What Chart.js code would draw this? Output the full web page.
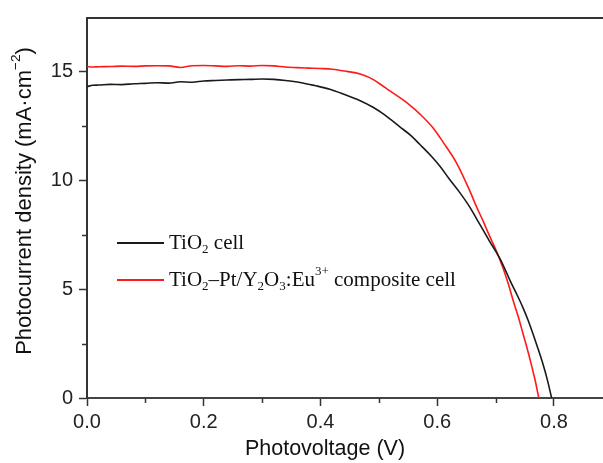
<!DOCTYPE html>
<html>
<head>
<meta charset="utf-8">
<script src="https://cdn.jsdelivr.net/npm/chart.js@4.4.0/dist/chart.umd.min.js"></script>
<style>
  html, body { margin: 0; padding: 0; background: #fff; overflow: hidden; }
</style>
</head>
<body>
<canvas id="myChart" width="603" height="463"></canvas>
<script>
// values
var voltTiO2 = [0, 0.01, 0.02, 0.04, 0.06, 0.08, 0.10, 0.12, 0.14, 0.16, 0.18, 0.20, 0.22, 0.24, 0.26, 0.28, 0.30, 0.32, 0.34, 0.365, 0.39, 0.416, 0.44, 0.468, 0.49, 0.51, 0.536, 0.555, 0.57, 0.59, 0.605, 0.62, 0.639, 0.655, 0.667, 0.68, 0.69, 0.70, 0.707, 0.716, 0.725, 0.736, 0.747, 0.756, 0.764, 0.772, 0.781, 0.789, 0.796];
var currTiO2 = [14.30, 14.36, 14.37, 14.40, 14.39, 14.43, 14.45, 14.48, 14.46, 14.52, 14.50, 14.56, 14.58, 14.60, 14.62, 14.63, 14.65, 14.63, 14.58, 14.49, 14.35, 14.18, 13.95, 13.65, 13.35, 13.00, 12.45, 12.05, 11.65, 11.10, 10.63, 10.08, 9.42, 8.80, 8.25, 7.65, 7.18, 6.75, 6.42, 5.92, 5.38, 4.78, 4.14, 3.55, 2.95, 2.32, 1.57, 0.80, 0];
var voltComposite = [0, 0.01, 0.02, 0.04, 0.06, 0.08, 0.10, 0.12, 0.14, 0.16, 0.18, 0.20, 0.22, 0.24, 0.26, 0.28, 0.30, 0.32, 0.34, 0.36, 0.38, 0.40, 0.42, 0.445, 0.468, 0.485, 0.502, 0.519, 0.541, 0.553, 0.57, 0.593, 0.61, 0.633, 0.656, 0.667, 0.679, 0.69, 0.702, 0.713, 0.722, 0.73, 0.739, 0.747, 0.755, 0.762, 0.768, 0.774];
var currComposite = [15.22, 15.20, 15.21, 15.22, 15.24, 15.23, 15.25, 15.26, 15.25, 15.18, 15.26, 15.27, 15.25, 15.23, 15.26, 15.24, 15.27, 15.25, 15.20, 15.17, 15.15, 15.13, 15.10, 15.00, 14.88, 14.70, 14.42, 14.10, 13.70, 13.45, 13.05, 12.40, 11.75, 10.80, 9.50, 8.80, 8.10, 7.42, 6.71, 5.95, 5.22, 4.48, 3.72, 2.95, 2.18, 1.45, 0.78, 0];
var xTicks = [0, 0.2, 0.4, 0.6, 0.8];
var xMinorTicks = [0.1, 0.3, 0.5, 0.7];
var yTicks = [0, 5, 10, 15];
var yMinorTicks = [2.5, 7.5, 12.5];
// text pieces: [text, 'sub' | 'sup' | '']
var nameTiO2 = [['TiO', ''], ['2', 'sub'], [' cell', '']];
var nameComposite = [['TiO', ''], ['2', 'sub'], ['\u2013Pt/Y', ''], ['2', 'sub'], ['O', ''], ['3', 'sub'], [':Eu', ''], ['3+', 'sup'], [' composite cell', '']];
var xTitle = [['Photovoltage (V)', '']];
var yTitle = [['Photocurrent density (mA\u00b7cm', ''], ['\u22122', 'sup'], [')', '']];

var sans = '"Liberation Sans", Arial, sans-serif';
var serif = '"Liberation Serif", "Times New Roman", serif';

function drawPieces(c, pieces, x, y, size, family) {
  for (var i = 0; i < pieces.length; i++) {
    var p = pieces[i];
    var s = p[1] ? size * 0.62 : size;
    var dy = p[1] == 'sub' ? size * 0.3 : (p[1] == 'sup' ? -size * 0.42 : 0);
    c.font = s + 'px ' + family;
    c.fillText(p[0], x, y + dy);
    x += c.measureText(p[0]).width;
  }
  return x;
}
function piecesWidth(c, pieces, size, family) {
  var w = 0;
  for (var i = 0; i < pieces.length; i++) {
    c.font = (pieces[i][1] ? size * 0.62 : size) + 'px ' + family;
    w += c.measureText(pieces[i][0]).width;
  }
  return w;
}

var extras = {
  id: 'extras',
  afterDraw: function (chart) {
    var c = chart.ctx;
    var a = chart.chartArea;
    var sx = chart.scales.x, sy = chart.scales.y;
    c.save();
    // top frame line
    c.strokeStyle = '#333';
    c.lineWidth = 2;
    c.beginPath();
    c.moveTo(a.left, a.top);
    c.lineTo(a.right, a.top);
    c.stroke();
    // minor ticks
    c.lineWidth = 1.5;
    xMinorTicks.forEach(function (v) {
      var px = Math.round(sx.getPixelForValue(v)) + 0.5;
      c.beginPath();
      c.moveTo(px, a.bottom);
      c.lineTo(px, a.bottom + 5);
      c.stroke();
    });
    yMinorTicks.forEach(function (v) {
      var py = Math.round(sy.getPixelForValue(v)) + 0.5;
      c.beginPath();
      c.moveTo(a.left, py);
      c.lineTo(a.left - 5, py);
      c.stroke();
    });
    // legend
    c.fillStyle = '#111';
    c.textBaseline = 'middle';
    c.textAlign = 'left';
    var rows = [[nameTiO2, '#1a1a1a', 243], [nameComposite, '#ff1a1a', 280]];
    rows.forEach(function (r) {
      c.strokeStyle = r[1];
      c.lineWidth = 2;
      c.beginPath();
      c.moveTo(117, r[2]);
      c.lineTo(164, r[2]);
      c.stroke();
      drawPieces(c, r[0], 169, r[2], 21, serif);
    });
    // axis titles
    c.fillStyle = '#111';
    var w = piecesWidth(c, xTitle, 21.5, sans);
    drawPieces(c, xTitle, 325 - w / 2, 449, 21.5, sans);
    c.translate(25, 201);
    c.rotate(-Math.PI / 2);
    w = piecesWidth(c, yTitle, 22, sans);
    drawPieces(c, yTitle, -w / 2, 0, 22, sans);
    c.restore();
  }
};

var ctx1 = document.getElementById('myChart').getContext('2d');
var graph = new Chart(ctx1, {
  type: 'line',
  data: {
    datasets: [{
      label: 'TiO2 cell',
      data: voltTiO2.map(function (v, i) { return { x: v, y: currTiO2[i] }; }),
      borderColor: '#1a1a1a',
      borderWidth: 1.6,
      pointRadius: 0,
      cubicInterpolationMode: 'monotone'
    }, {
      label: 'TiO2-Pt/Y2O3:Eu3+ composite cell',
      data: voltComposite.map(function (v, i) { return { x: v, y: currComposite[i] }; }),
      borderColor: '#ff1a1a',
      borderWidth: 1.6,
      pointRadius: 0,
      cubicInterpolationMode: 'monotone'
    }]
  },
  options: {
    responsive: false,
    animation: false,
    layout: { padding: { top: 13, right: 0, left: 0, bottom: 0 } },
    plugins: { legend: { display: false }, tooltip: { enabled: false } },
    scales: {
      x: {
        type: 'linear',
        min: 0,
        max: 0.884,
        afterFit: function (s) { s.height = 65; },
        afterBuildTicks: function (s) { s.ticks = xTicks.map(function (v) { return { value: v }; }); },
        border: { display: true, color: '#444', width: 2 },
        grid: { drawOnChartArea: false, tickLength: 8, tickWidth: 1.5, tickColor: '#333' },
        ticks: {
          padding: 4,
          color: '#222',
          font: { family: sans, size: 20 },
          callback: function (v) { return v.toFixed(1); }
        }
      },
      y: {
        min: 0,
        max: 17.45,
        afterFit: function (s) { s.width = 87; },
        afterBuildTicks: function (s) { s.ticks = yTicks.map(function (v) { return { value: v }; }); },
        border: { display: true, color: '#333', width: 2 },
        grid: { drawOnChartArea: false, tickLength: 8, tickWidth: 1.5, tickColor: '#333' },
        ticks: {
          padding: 6,
          color: '#222',
          font: { family: sans, size: 20 },
          callback: function (v) { return String(v); }
        }
      }
    }
  },
  plugins: [extras]
});
</script>
</body>
</html>
